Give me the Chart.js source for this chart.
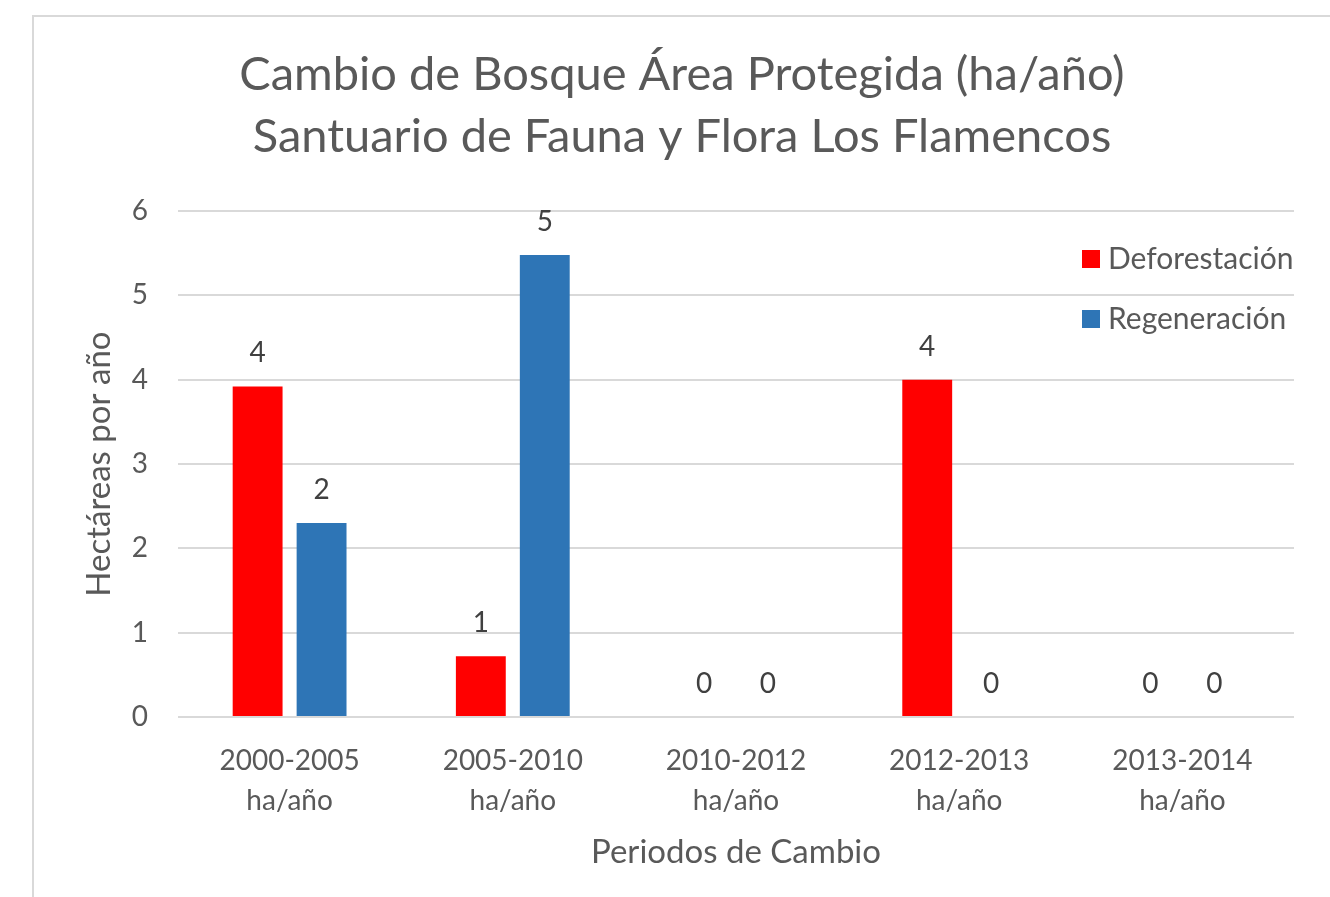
<!DOCTYPE html>
<html>
<head>
<meta charset="utf-8">
<script src="https://cdn.jsdelivr.net/npm/chart.js@4/dist/chart.umd.min.js"></script>
<style>
  html, body { margin: 0; padding: 0; background: #fff; }
  #wrap { position: relative; width: 1330px; height: 897px; overflow: hidden; }
  #frame { position: absolute; left: 32px; top: 15px; right: -10px; bottom: -10px;
           border-top: 2px solid #d9d9d9; border-left: 2px solid #d9d9d9; pointer-events: none; }
  canvas { position: absolute; left: 0; top: 0; }
</style>
</head>
<body>
<div id="wrap">
  <canvas id="barChart" width="1330" height="897"></canvas>
  <div id="frame"></div>
</div>
<script>
// datos del gráfico
var periodos = [["2000-2005", "ha/año"], ["2005-2010", "ha/año"], ["2010-2012", "ha/año"], ["2012-2013", "ha/año"], ["2013-2014", "ha/año"]];
var deforestacion = [3.92, 0.72, 0, 4.0, 0];
var regeneracion = [2.3, 5.48, 0, 0, 0];
var yTicks = [0, 1, 2, 3, 4, 5, 6];

var gris = "#595959";
var fuente = "Lato, 'Open Sans', sans-serif";

// etiquetas de valor encima de cada barra
var etiquetas = {
  id: "etiquetas",
  afterDatasetsDraw: function (chart) {
    var ctx = chart.ctx;
    ctx.save();
    ctx.font = "28px " + fuente;
    ctx.fillStyle = "#404040";
    ctx.textAlign = "center";
    ctx.textBaseline = "middle";
    chart.data.datasets.forEach(function (ds, i) {
      chart.getDatasetMeta(i).data.forEach(function (bar, j) {
        ctx.fillText(Math.round(ds.data[j]), bar.x, bar.y - 33);
      });
    });
    ctx.restore();
  }
};

// leyenda dentro del área de trazado
var leyenda = {
  id: "leyenda",
  afterDraw: function (chart) {
    var ctx = chart.ctx;
    ctx.save();
    ctx.font = "30px " + fuente;
    ctx.textBaseline = "middle";
    chart.data.datasets.forEach(function (ds, i) {
      var y = 259 + i * 60;
      ctx.fillStyle = ds.backgroundColor;
      ctx.fillRect(1082, y - 9, 18, 18);
      ctx.fillStyle = gris;
      ctx.fillText(ds.label, 1108, y);
    });
    ctx.restore();
  }
};

var ctx = document.getElementById("barChart").getContext("2d");
var grafico = new Chart(ctx, {
  type: "bar",
  data: {
    labels: periodos,
    datasets: [{
      label: "Deforestación",
      data: deforestacion,
      backgroundColor: "#FF0000"
    }, {
      label: "Regeneración",
      data: regeneracion,
      backgroundColor: "#2E75B6"
    }]
  },
  options: {
    responsive: false,
    animation: false,
    categoryPercentage: 0.573,
    barPercentage: 0.78,
    layout: { padding: { left: 70, right: 36, top: 0, bottom: 0 } },
    plugins: {
      legend: { display: false },
      tooltip: { enabled: false },
      title: {
        display: true,
        text: ["Cambio de Bosque Área Protegida (ha/año)", "Santuario de Fauna y Flora Los Flamencos"],
        color: gris,
        font: { family: fuente, size: 47, weight: "normal", lineHeight: 1.32 },
        padding: { top: 44, bottom: 43 }
      }
    },
    scales: {
      x: {
        grid: { display: false },
        border: { display: false },
        ticks: { color: gris, font: { family: fuente, size: 28, lineHeight: 1.43 }, padding: 16, maxRotation: 0 },
        title: {
          display: true,
          text: "Periodos de Cambio",
          color: gris,
          font: { family: fuente, size: 33, lineHeight: 1.2 },
          padding: { top: 0, bottom: 25 }
        },
        afterFit: function (scale) { scale.height = 180; }
      },
      y: {
        min: 0,
        max: 6,
        grid: { color: "#d9d9d9", lineWidth: 2, drawTicks: false },
        border: { display: false },
        afterBuildTicks: function (scale) {
          scale.ticks = yTicks.map(function (v) { return { value: v }; });
        },
        ticks: { color: gris, font: { family: fuente, size: 28 }, padding: 30 },
        title: {
          display: true,
          text: "Hectáreas por año",
          color: gris,
          font: { family: fuente, size: 33, lineHeight: 1.2 },
          padding: { top: 10, bottom: 0 }
        },
        afterFit: function (scale) { scale.width = 108; }
      }
    }
  },
  plugins: [etiquetas, leyenda]
});
</script>
</body>
</html>
